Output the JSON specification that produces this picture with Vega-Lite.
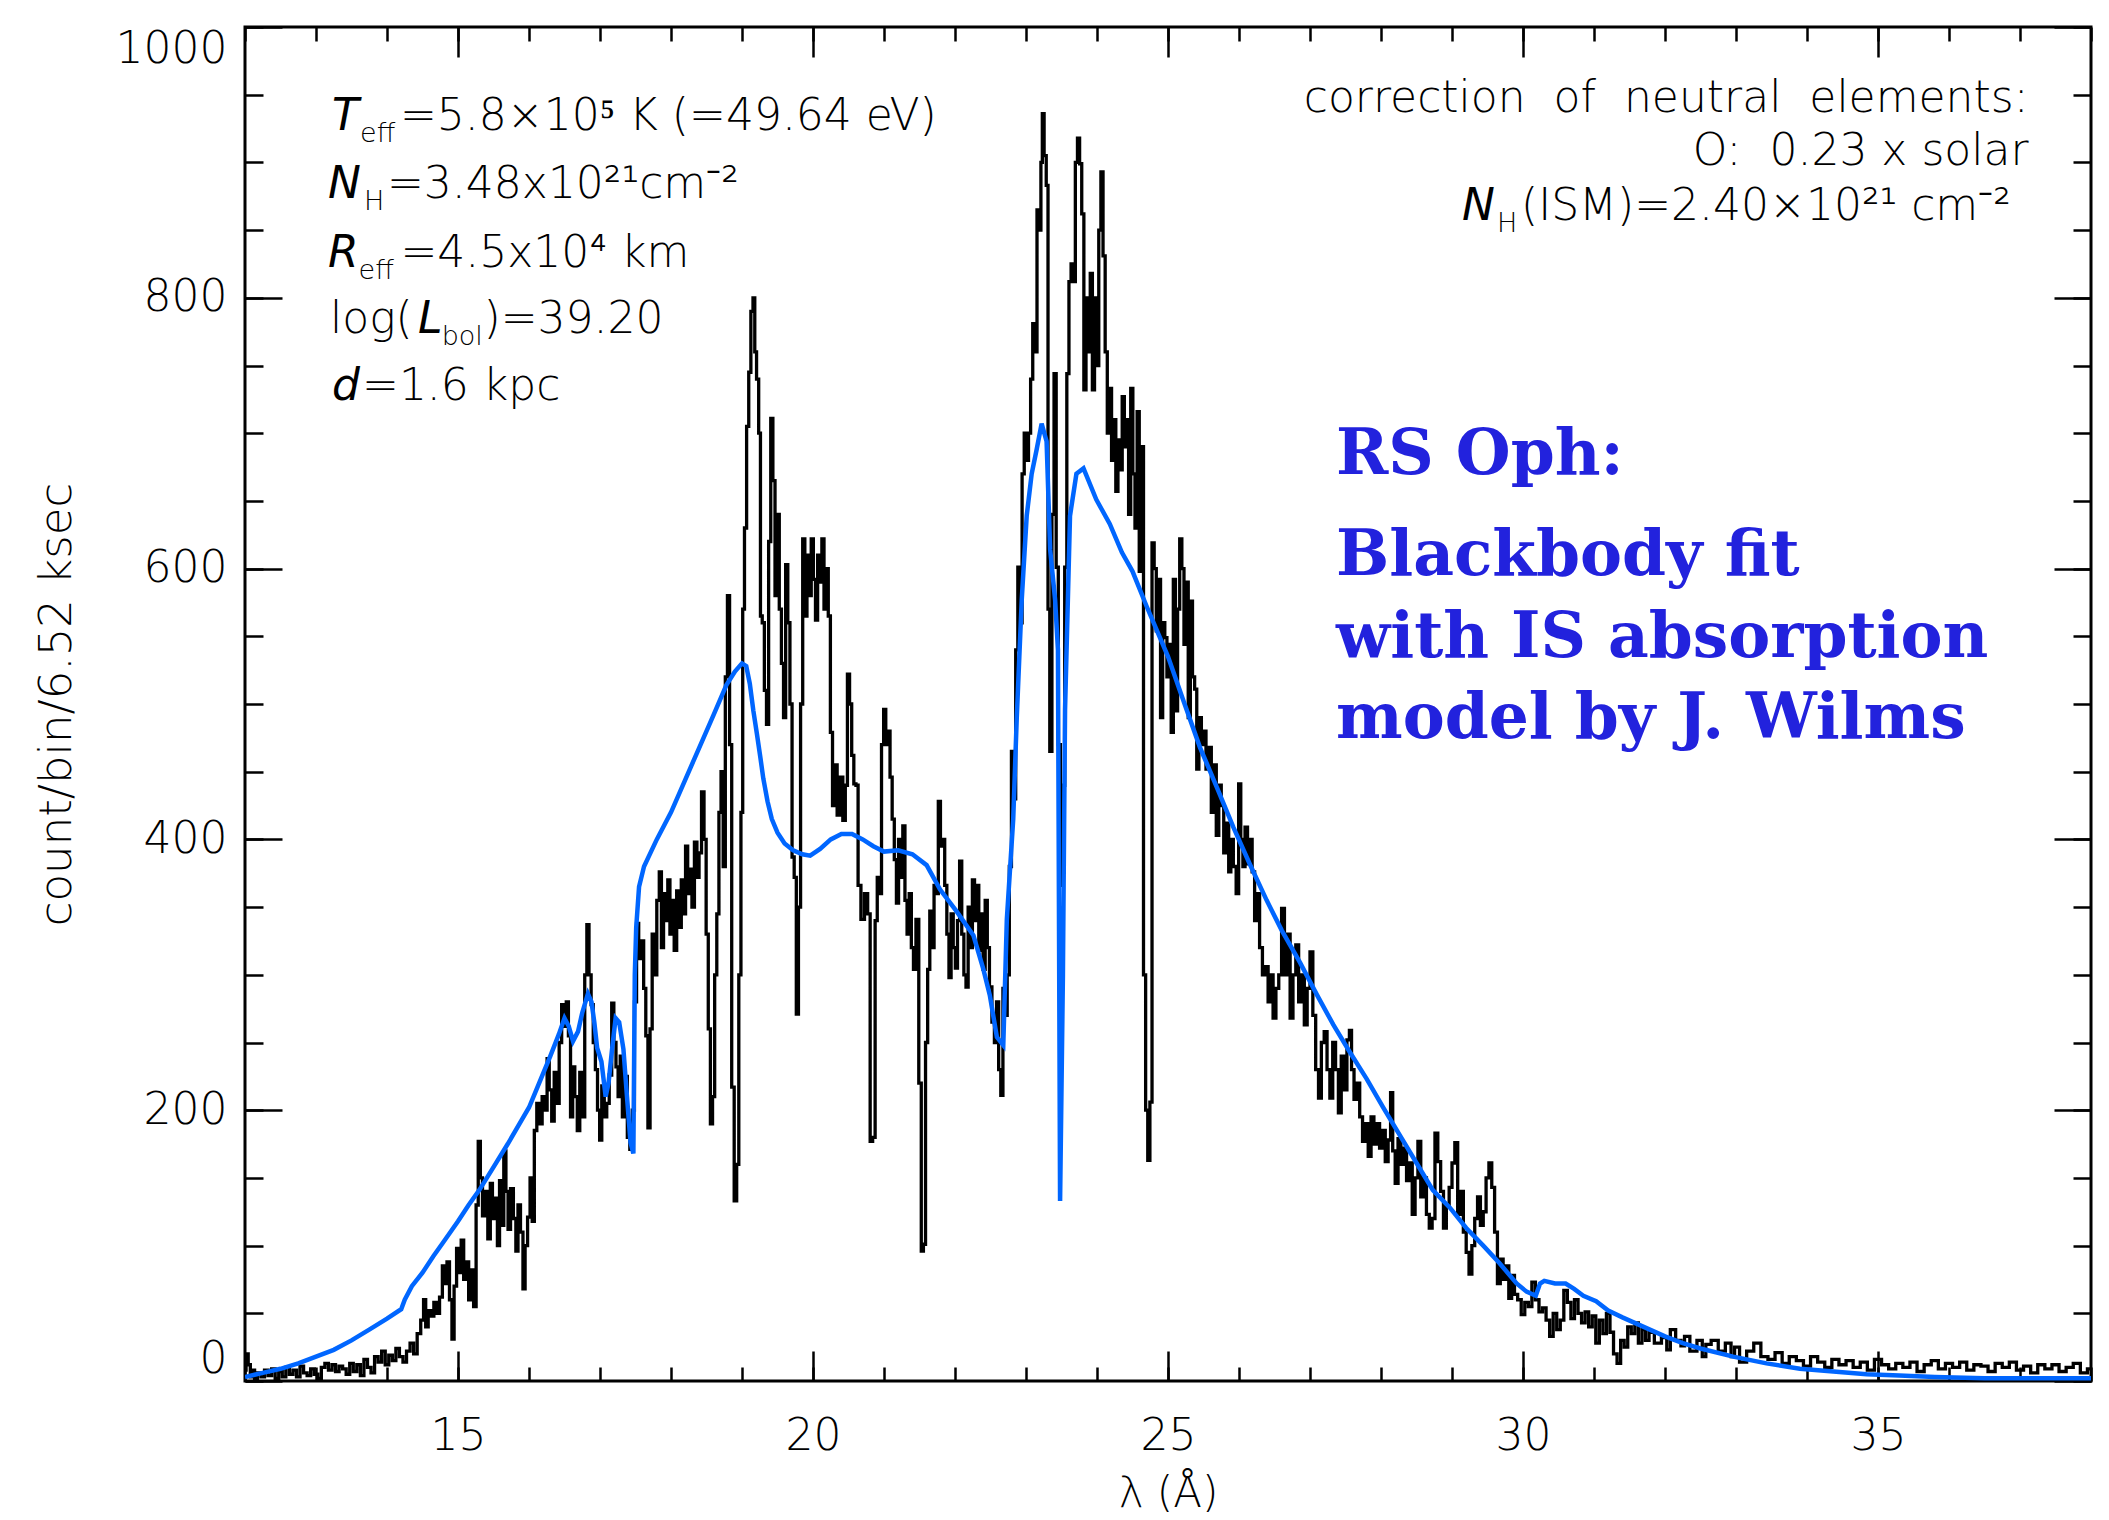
{
  "$schema": "https://vega.github.io/schema/vega-lite/v6.json",
  "width": 1846,
  "height": 1354,
  "autosize": {"type": "none"},
  "padding": {"left": 245, "top": 27, "right": 18, "bottom": 139},
  "background": "white",
  "config": {
    "view": {"stroke": "black", "strokeWidth": 3},
    "axis": {"domain": false, "grid": false, "labelFont": "DejaVu Sans", "titleFont": "DejaVu Sans", "labelColor": "black", "titleColor": "black", "tickColor": "black", "tickWidth": 2.5, "labelFontWeight": 200, "titleFontWeight": 200}
  },
  "datasets": {
    "obs": [
      {"l":12.0,"c":8},{"l":12.03,"c":20},{"l":12.06,"c":12},{"l":12.09,"c":3},{"l":12.12,"c":8},{"l":12.15,"c":2},{"l":12.2,"c":6},{"l":12.25,"c":3},{"l":12.3,"c":8},{"l":12.35,"c":4},{"l":12.4,"c":9},{"l":12.45,"c":2},{"l":12.5,"c":7},{"l":12.55,"c":3},{"l":12.6,"c":10},{"l":12.65,"c":5},{"l":12.7,"c":8},{"l":12.75,"c":3},{"l":12.8,"c":11},{"l":12.85,"c":6},{"l":12.9,"c":4},{"l":12.95,"c":9},{"l":13.0,"c":5},{"l":13.05,"c":2},{"l":13.1,"c":10},{"l":13.15,"c":13},{"l":13.2,"c":8},{"l":13.25,"c":12},{"l":13.3,"c":7},{"l":13.35,"c":11},{"l":13.4,"c":9},{"l":13.45,"c":5},{"l":13.5,"c":13},{"l":13.55,"c":7},{"l":13.6,"c":12},{"l":13.65,"c":4},{"l":13.7,"c":16},{"l":13.75,"c":10},{"l":13.8,"c":6},{"l":13.85,"c":18},{"l":13.9,"c":14},{"l":13.95,"c":22},{"l":14.0,"c":12},{"l":14.05,"c":19},{"l":14.1,"c":15},{"l":14.15,"c":24},{"l":14.2,"c":18},{"l":14.25,"c":14},{"l":14.3,"c":22},{"l":14.35,"c":28},{"l":14.4,"c":20},{"l":14.45,"c":35},{"l":14.5,"c":45},{"l":14.53,"c":60},{"l":14.56,"c":40},{"l":14.6,"c":52},{"l":14.64,"c":48},{"l":14.68,"c":58},{"l":14.72,"c":50},{"l":14.76,"c":62},{"l":14.8,"c":85},{"l":14.83,"c":72},{"l":14.86,"c":88},{"l":14.9,"c":60},{"l":14.93,"c":31},{"l":14.96,"c":70},{"l":15.0,"c":98},{"l":15.03,"c":80},{"l":15.06,"c":104},{"l":15.1,"c":75},{"l":15.13,"c":88},{"l":15.17,"c":60},{"l":15.2,"c":82},{"l":15.24,"c":55},{"l":15.27,"c":130},{"l":15.3,"c":177},{"l":15.33,"c":150},{"l":15.36,"c":122},{"l":15.4,"c":140},{"l":15.44,"c":105},{"l":15.47,"c":146},{"l":15.5,"c":120},{"l":15.54,"c":135},{"l":15.57,"c":100},{"l":15.6,"c":148},{"l":15.63,"c":115},{"l":15.66,"c":170},{"l":15.69,"c":140},{"l":15.72,"c":112},{"l":15.76,"c":142},{"l":15.8,"c":120},{"l":15.83,"c":96},{"l":15.86,"c":130},{"l":15.9,"c":110},{"l":15.93,"c":68},{"l":15.96,"c":100},{"l":16.0,"c":121},{"l":16.03,"c":150},{"l":16.06,"c":118},{"l":16.09,"c":185},{"l":16.13,"c":205},{"l":16.17,"c":190},{"l":16.2,"c":210},{"l":16.24,"c":200},{"l":16.27,"c":238},{"l":16.3,"c":215},{"l":16.34,"c":192},{"l":16.37,"c":228},{"l":16.41,"c":205},{"l":16.44,"c":250},{"l":16.48,"c":278},{"l":16.51,"c":262},{"l":16.54,"c":280},{"l":16.57,"c":255},{"l":16.6,"c":195},{"l":16.63,"c":232},{"l":16.66,"c":210},{"l":16.7,"c":185},{"l":16.73,"c":228},{"l":16.77,"c":195},{"l":16.8,"c":300},{"l":16.83,"c":337},{"l":16.86,"c":300},{"l":16.89,"c":278},{"l":16.92,"c":250},{"l":16.95,"c":230},{"l":16.98,"c":200},{"l":17.01,"c":178},{"l":17.04,"c":218},{"l":17.08,"c":195},{"l":17.11,"c":205},{"l":17.15,"c":226},{"l":17.18,"c":279},{"l":17.21,"c":250},{"l":17.24,"c":232},{"l":17.27,"c":210},{"l":17.3,"c":240},{"l":17.33,"c":195},{"l":17.37,"c":225},{"l":17.4,"c":180},{"l":17.44,"c":171},{"l":17.47,"c":200},{"l":17.5,"c":280},{"l":17.53,"c":338},{"l":17.56,"c":312},{"l":17.6,"c":325},{"l":17.63,"c":290},{"l":17.66,"c":255},{"l":17.69,"c":187},{"l":17.72,"c":260},{"l":17.75,"c":330},{"l":17.78,"c":300},{"l":17.82,"c":355},{"l":17.85,"c":376},{"l":17.88,"c":320},{"l":17.91,"c":360},{"l":17.94,"c":340},{"l":17.97,"c":370},{"l":18.0,"c":330},{"l":18.03,"c":355},{"l":18.06,"c":318},{"l":18.1,"c":362},{"l":18.13,"c":335},{"l":18.16,"c":370},{"l":18.19,"c":345},{"l":18.22,"c":395},{"l":18.25,"c":360},{"l":18.28,"c":378},{"l":18.31,"c":350},{"l":18.35,"c":398},{"l":18.38,"c":372},{"l":18.41,"c":390},{"l":18.45,"c":435},{"l":18.48,"c":400},{"l":18.51,"c":330},{"l":18.54,"c":260},{"l":18.57,"c":190},{"l":18.6,"c":210},{"l":18.63,"c":300},{"l":18.66,"c":345},{"l":18.69,"c":420},{"l":18.72,"c":450},{"l":18.75,"c":380},{"l":18.78,"c":520},{"l":18.81,"c":580},{"l":18.84,"c":470},{"l":18.87,"c":217},{"l":18.91,"c":133},{"l":18.94,"c":160},{"l":18.97,"c":300},{"l":19.0,"c":420},{"l":19.02,"c":570},{"l":19.05,"c":630},{"l":19.08,"c":705},{"l":19.11,"c":745},{"l":19.14,"c":790},{"l":19.17,"c":800},{"l":19.19,"c":760},{"l":19.22,"c":740},{"l":19.25,"c":700},{"l":19.27,"c":565},{"l":19.3,"c":560},{"l":19.33,"c":510},{"l":19.36,"c":485},{"l":19.39,"c":620},{"l":19.42,"c":711},{"l":19.45,"c":665},{"l":19.48,"c":580},{"l":19.51,"c":640},{"l":19.54,"c":570},{"l":19.57,"c":530},{"l":19.6,"c":490},{"l":19.63,"c":603},{"l":19.66,"c":560},{"l":19.69,"c":500},{"l":19.72,"c":387},{"l":19.75,"c":372},{"l":19.78,"c":271},{"l":19.81,"c":350},{"l":19.84,"c":500},{"l":19.87,"c":622},{"l":19.9,"c":565},{"l":19.93,"c":610},{"l":19.96,"c":580},{"l":19.99,"c":622},{"l":20.02,"c":592},{"l":20.05,"c":562},{"l":20.08,"c":610},{"l":20.11,"c":590},{"l":20.14,"c":622},{"l":20.17,"c":570},{"l":20.2,"c":600},{"l":20.23,"c":565},{"l":20.26,"c":479},{"l":20.29,"c":425},{"l":20.32,"c":455},{"l":20.36,"c":418},{"l":20.4,"c":446},{"l":20.44,"c":414},{"l":20.47,"c":440},{"l":20.5,"c":522},{"l":20.53,"c":500},{"l":20.56,"c":462},{"l":20.59,"c":441},{"l":20.62,"c":440},{"l":20.65,"c":366},{"l":20.7,"c":341},{"l":20.75,"c":360},{"l":20.79,"c":345},{"l":20.82,"c":177},{"l":20.86,"c":180},{"l":20.89,"c":340},{"l":20.92,"c":372},{"l":20.95,"c":360},{"l":20.98,"c":470},{"l":21.01,"c":496},{"l":21.04,"c":470},{"l":21.07,"c":480},{"l":21.1,"c":446},{"l":21.13,"c":415},{"l":21.16,"c":385},{"l":21.19,"c":353},{"l":21.22,"c":400},{"l":21.25,"c":372},{"l":21.28,"c":410},{"l":21.31,"c":355},{"l":21.34,"c":330},{"l":21.37,"c":360},{"l":21.4,"c":320},{"l":21.43,"c":304},{"l":21.47,"c":341},{"l":21.51,"c":220},{"l":21.54,"c":96},{"l":21.57,"c":101},{"l":21.6,"c":250},{"l":21.63,"c":304},{"l":21.66,"c":347},{"l":21.69,"c":320},{"l":21.72,"c":366},{"l":21.75,"c":360},{"l":21.78,"c":428},{"l":21.81,"c":395},{"l":21.84,"c":400},{"l":21.87,"c":366},{"l":21.9,"c":330},{"l":21.93,"c":298},{"l":21.96,"c":345},{"l":21.99,"c":320},{"l":22.02,"c":305},{"l":22.05,"c":340},{"l":22.08,"c":384},{"l":22.11,"c":330},{"l":22.14,"c":300},{"l":22.17,"c":291},{"l":22.2,"c":350},{"l":22.23,"c":320},{"l":22.26,"c":370},{"l":22.29,"c":340},{"l":22.32,"c":366},{"l":22.35,"c":318},{"l":22.38,"c":345},{"l":22.41,"c":304},{"l":22.44,"c":355},{"l":22.47,"c":320},{"l":22.5,"c":291},{"l":22.54,"c":265},{"l":22.57,"c":250},{"l":22.6,"c":280},{"l":22.63,"c":230},{"l":22.66,"c":211},{"l":22.69,"c":290},{"l":22.72,"c":270},{"l":22.75,"c":300},{"l":22.78,"c":380},{"l":22.81,"c":465},{"l":22.84,"c":430},{"l":22.87,"c":540},{"l":22.9,"c":601},{"l":22.93,"c":560},{"l":22.96,"c":670},{"l":22.99,"c":700},{"l":23.02,"c":680},{"l":23.05,"c":700},{"l":23.08,"c":740},{"l":23.11,"c":781},{"l":23.14,"c":760},{"l":23.17,"c":865},{"l":23.2,"c":850},{"l":23.22,"c":900},{"l":23.24,"c":936},{"l":23.27,"c":905},{"l":23.3,"c":883},{"l":23.32,"c":570},{"l":23.35,"c":465},{"l":23.38,"c":640},{"l":23.41,"c":744},{"l":23.44,"c":601},{"l":23.47,"c":470},{"l":23.5,"c":366},{"l":23.53,"c":440},{"l":23.56,"c":601},{"l":23.59,"c":744},{"l":23.62,"c":812},{"l":23.65,"c":825},{"l":23.68,"c":812},{"l":23.71,"c":900},{"l":23.74,"c":918},{"l":23.77,"c":899},{"l":23.8,"c":862},{"l":23.83,"c":732},{"l":23.86,"c":800},{"l":23.89,"c":760},{"l":23.92,"c":818},{"l":23.95,"c":732},{"l":23.98,"c":800},{"l":24.01,"c":750},{"l":24.04,"c":850},{"l":24.07,"c":893},{"l":24.1,"c":831},{"l":24.13,"c":760},{"l":24.16,"c":700},{"l":24.19,"c":733},{"l":24.22,"c":680},{"l":24.25,"c":710},{"l":24.28,"c":657},{"l":24.31,"c":695},{"l":24.34,"c":673},{"l":24.37,"c":727},{"l":24.4,"c":690},{"l":24.43,"c":710},{"l":24.46,"c":640},{"l":24.49,"c":733},{"l":24.52,"c":670},{"l":24.55,"c":630},{"l":24.58,"c":716},{"l":24.61,"c":598},{"l":24.64,"c":690},{"l":24.67,"c":300},{"l":24.7,"c":200},{"l":24.73,"c":163},{"l":24.76,"c":206},{"l":24.79,"c":619},{"l":24.82,"c":600},{"l":24.85,"c":554},{"l":24.88,"c":592},{"l":24.91,"c":490},{"l":24.94,"c":560},{"l":24.97,"c":549},{"l":25.0,"c":520},{"l":25.03,"c":544},{"l":25.06,"c":479},{"l":25.09,"c":592},{"l":25.12,"c":495},{"l":25.15,"c":570},{"l":25.18,"c":622},{"l":25.21,"c":600},{"l":25.24,"c":544},{"l":25.27,"c":590},{"l":25.3,"c":490},{"l":25.33,"c":576},{"l":25.36,"c":520},{"l":25.39,"c":511},{"l":25.42,"c":452},{"l":25.45,"c":490},{"l":25.49,"c":470},{"l":25.52,"c":480},{"l":25.55,"c":452},{"l":25.59,"c":468},{"l":25.63,"c":420},{"l":25.66,"c":455},{"l":25.7,"c":403},{"l":25.73,"c":440},{"l":25.77,"c":425},{"l":25.8,"c":390},{"l":25.84,"c":412},{"l":25.87,"c":376},{"l":25.9,"c":400},{"l":25.94,"c":380},{"l":25.98,"c":360},{"l":26.01,"c":441},{"l":26.04,"c":400},{"l":26.07,"c":380},{"l":26.1,"c":409},{"l":26.14,"c":382},{"l":26.17,"c":400},{"l":26.2,"c":376},{"l":26.24,"c":340},{"l":26.27,"c":360},{"l":26.31,"c":320},{"l":26.35,"c":300},{"l":26.39,"c":306},{"l":26.43,"c":280},{"l":26.46,"c":300},{"l":26.5,"c":268},{"l":26.54,"c":290},{"l":26.58,"c":300},{"l":26.62,"c":349},{"l":26.66,"c":300},{"l":26.7,"c":330},{"l":26.74,"c":268},{"l":26.78,"c":300},{"l":26.82,"c":322},{"l":26.86,"c":280},{"l":26.9,"c":300},{"l":26.94,"c":263},{"l":26.98,"c":290},{"l":27.02,"c":317},{"l":27.06,"c":270},{"l":27.1,"c":230},{"l":27.14,"c":209},{"l":27.18,"c":250},{"l":27.22,"c":258},{"l":27.26,"c":230},{"l":27.3,"c":209},{"l":27.34,"c":250},{"l":27.38,"c":230},{"l":27.42,"c":198},{"l":27.46,"c":240},{"l":27.5,"c":215},{"l":27.54,"c":252},{"l":27.57,"c":259},{"l":27.6,"c":230},{"l":27.64,"c":208},{"l":27.68,"c":220},{"l":27.72,"c":195},{"l":27.76,"c":177},{"l":27.8,"c":190},{"l":27.84,"c":166},{"l":27.88,"c":195},{"l":27.92,"c":175},{"l":27.96,"c":190},{"l":28.0,"c":172},{"l":28.04,"c":185},{"l":28.08,"c":162},{"l":28.12,"c":178},{"l":28.15,"c":213},{"l":28.18,"c":170},{"l":28.22,"c":146},{"l":28.26,"c":179},{"l":28.3,"c":160},{"l":28.34,"c":172},{"l":28.38,"c":148},{"l":28.42,"c":161},{"l":28.46,"c":123},{"l":28.5,"c":150},{"l":28.54,"c":177},{"l":28.58,"c":136},{"l":28.62,"c":150},{"l":28.66,"c":123},{"l":28.7,"c":113},{"l":28.74,"c":120},{"l":28.78,"c":183},{"l":28.82,"c":162},{"l":28.86,"c":140},{"l":28.9,"c":113},{"l":28.94,"c":130},{"l":28.98,"c":143},{"l":29.02,"c":161},{"l":29.06,"c":176},{"l":29.1,"c":123},{"l":29.14,"c":140},{"l":29.18,"c":110},{"l":29.22,"c":95},{"l":29.26,"c":79},{"l":29.3,"c":100},{"l":29.34,"c":120},{"l":29.38,"c":136},{"l":29.42,"c":115},{"l":29.46,"c":125},{"l":29.5,"c":150},{"l":29.54,"c":161},{"l":29.58,"c":143},{"l":29.62,"c":110},{"l":29.66,"c":72},{"l":29.7,"c":90},{"l":29.74,"c":75},{"l":29.78,"c":85},{"l":29.82,"c":61},{"l":29.86,"c":78},{"l":29.9,"c":64},{"l":29.95,"c":60},{"l":30.0,"c":49},{"l":30.05,"c":58},{"l":30.1,"c":55},{"l":30.15,"c":73},{"l":30.2,"c":60},{"l":30.25,"c":51},{"l":30.3,"c":54},{"l":30.35,"c":45},{"l":30.4,"c":33},{"l":30.45,"c":50},{"l":30.5,"c":38},{"l":30.55,"c":45},{"l":30.6,"c":67},{"l":30.65,"c":58},{"l":30.7,"c":46},{"l":30.75,"c":60},{"l":30.8,"c":50},{"l":30.85,"c":43},{"l":30.9,"c":51},{"l":30.95,"c":40},{"l":31.0,"c":48},{"l":31.05,"c":28},{"l":31.1,"c":45},{"l":31.15,"c":35},{"l":31.2,"c":50},{"l":31.25,"c":36},{"l":31.3,"c":20},{"l":31.35,"c":13},{"l":31.4,"c":30},{"l":31.45,"c":25},{"l":31.5,"c":40},{"l":31.55,"c":35},{"l":31.6,"c":43},{"l":31.65,"c":28},{"l":31.7,"c":38},{"l":31.75,"c":30},{"l":31.8,"c":36},{"l":31.9,"c":28},{"l":32.0,"c":32},{"l":32.05,"c":23},{"l":32.1,"c":38},{"l":32.2,"c":30},{"l":32.25,"c":26},{"l":32.3,"c":33},{"l":32.4,"c":22},{"l":32.5,"c":30},{"l":32.55,"c":18},{"l":32.6,"c":27},{"l":32.7,"c":30},{"l":32.8,"c":22},{"l":32.9,"c":28},{"l":32.96,"c":18},{"l":33.0,"c":25},{"l":33.1,"c":14},{"l":33.2,"c":22},{"l":33.3,"c":28},{"l":33.4,"c":18},{"l":33.5,"c":16},{"l":33.6,"c":21},{"l":33.7,"c":13},{"l":33.8,"c":18},{"l":33.9,"c":15},{"l":34.0,"c":11},{"l":34.1,"c":18},{"l":34.2,"c":14},{"l":34.3,"c":10},{"l":34.4,"c":16},{"l":34.5,"c":12},{"l":34.6,"c":15},{"l":34.7,"c":10},{"l":34.8,"c":14},{"l":34.9,"c":8},{"l":35.0,"c":16},{"l":35.1,"c":12},{"l":35.2,"c":9},{"l":35.3,"c":13},{"l":35.4,"c":10},{"l":35.5,"c":14},{"l":35.6,"c":7},{"l":35.7,"c":12},{"l":35.8,"c":15},{"l":35.9,"c":9},{"l":36.0,"c":13},{"l":36.1,"c":10},{"l":36.2,"c":14},{"l":36.3,"c":8},{"l":36.4,"c":12},{"l":36.5,"c":11},{"l":36.6,"c":7},{"l":36.7,"c":13},{"l":36.8,"c":10},{"l":36.9,"c":14},{"l":37.0,"c":8},{"l":37.1,"c":11},{"l":37.2,"c":6},{"l":37.3,"c":12},{"l":37.4,"c":9},{"l":37.5,"c":12},{"l":37.6,"c":7},{"l":37.7,"c":10},{"l":37.8,"c":13},{"l":37.9,"c":6},{"l":38.0,"c":9}
    ],
    "model": [
      {"l":12.0,"m":3},{"l":12.25,"m":6},{"l":12.5,"m":9},{"l":12.75,"m":13},{"l":13.0,"m":18},{"l":13.25,"m":23},{"l":13.5,"m":30},{"l":13.75,"m":38},{"l":14.0,"m":46},{"l":14.2,"m":53},{"l":14.25,"m":60},{"l":14.35,"m":70},{"l":14.5,"m":80},{"l":14.65,"m":92},{"l":14.8,"m":103},{"l":15.0,"m":118},{"l":15.15,"m":130},{"l":15.3,"m":141},{"l":15.5,"m":158},{"l":15.7,"m":175},{"l":15.9,"m":193},{"l":16.0,"m":202},{"l":16.15,"m":221},{"l":16.3,"m":240},{"l":16.42,"m":256},{"l":16.5,"m":268},{"l":16.56,"m":262},{"l":16.62,"m":251},{"l":16.69,"m":258},{"l":16.75,"m":272},{"l":16.83,"m":286},{"l":16.88,"m":280},{"l":16.92,"m":265},{"l":16.96,"m":246},{"l":17.02,"m":236},{"l":17.08,"m":210},{"l":17.12,"m":220},{"l":17.17,"m":245},{"l":17.22,"m":268},{"l":17.27,"m":265},{"l":17.33,"m":245},{"l":17.38,"m":210},{"l":17.43,"m":176},{"l":17.47,"m":168},{"l":17.49,"m":300},{"l":17.51,"m":335},{"l":17.55,"m":365},{"l":17.62,"m":380},{"l":17.8,"m":400},{"l":18.0,"m":420},{"l":18.2,"m":444},{"l":18.4,"m":468},{"l":18.6,"m":492},{"l":18.78,"m":514},{"l":18.9,"m":524},{"l":19.0,"m":530},{"l":19.06,"m":528},{"l":19.11,"m":515},{"l":19.16,"m":495},{"l":19.21,"m":478},{"l":19.26,"m":460},{"l":19.3,"m":445},{"l":19.36,"m":428},{"l":19.42,"m":415},{"l":19.5,"m":405},{"l":19.6,"m":397},{"l":19.72,"m":392},{"l":19.85,"m":389},{"l":19.96,"m":388},{"l":20.1,"m":393},{"l":20.25,"m":400},{"l":20.4,"m":404},{"l":20.55,"m":404},{"l":20.7,"m":400},{"l":20.85,"m":395},{"l":21.0,"m":391},{"l":21.2,"m":392},{"l":21.4,"m":389},{"l":21.6,"m":381},{"l":21.79,"m":363},{"l":22.02,"m":347},{"l":22.26,"m":329},{"l":22.4,"m":304},{"l":22.49,"m":285},{"l":22.59,"m":254},{"l":22.68,"m":248},{"l":22.73,"m":341},{"l":22.82,"m":415},{"l":22.87,"m":490},{"l":22.94,"m":577},{"l":23.01,"m":639},{"l":23.08,"m":670},{"l":23.15,"m":688},{"l":23.22,"m":707},{"l":23.29,"m":694},{"l":23.34,"m":614},{"l":23.41,"m":577},{"l":23.45,"m":540},{"l":23.48,"m":133},{"l":23.52,"m":300},{"l":23.55,"m":496},{"l":23.62,"m":639},{"l":23.71,"m":670},{"l":23.81,"m":674},{"l":23.99,"m":651},{"l":24.18,"m":633},{"l":24.35,"m":612},{"l":24.5,"m":598},{"l":24.7,"m":572},{"l":25.0,"m":535},{"l":25.2,"m":505},{"l":25.45,"m":468},{"l":25.7,"m":437},{"l":25.92,"m":409},{"l":26.15,"m":382},{"l":26.39,"m":355},{"l":26.6,"m":333},{"l":26.86,"m":309},{"l":27.1,"m":285},{"l":27.33,"m":263},{"l":27.56,"m":243},{"l":27.8,"m":223},{"l":28.03,"m":202},{"l":28.26,"m":182},{"l":28.5,"m":161},{"l":28.73,"m":141},{"l":28.97,"m":128},{"l":29.2,"m":113},{"l":29.44,"m":100},{"l":29.67,"m":87},{"l":29.91,"m":72},{"l":30.05,"m":66},{"l":30.18,"m":63},{"l":30.24,"m":72},{"l":30.3,"m":74},{"l":30.45,"m":72},{"l":30.6,"m":72},{"l":30.72,"m":68},{"l":30.85,"m":63},{"l":31.03,"m":59},{"l":31.2,"m":52},{"l":31.4,"m":47},{"l":31.7,"m":40},{"l":32.0,"m":33},{"l":32.25,"m":28},{"l":32.5,"m":24},{"l":32.96,"m":18},{"l":33.43,"m":13},{"l":33.9,"m":9},{"l":34.37,"m":7},{"l":34.84,"m":5},{"l":35.3,"m":4},{"l":35.8,"m":3},{"l":36.5,"m":2},{"l":37.2,"m":2},{"l":38.0,"m":2}
    ],
    "mainText": [
      {"x":14.183,"y":924.0,"t":"=5.8×10⁵ K (=49.64 eV)"},
      {"x":14.0,"y":873.7,"t":"=3.48x10²¹cm⁻²"},
      {"x":14.19,"y":822.7,"t":"=4.5x10⁴ km"},
      {"x":13.197,"y":774.0,"t":"log("},
      {"x":15.36,"y":774.0,"t":")=39.20"},
      {"x":13.648,"y":724.5,"t":"=1.6 kpc"},
      {"x":29.972,"y":857.5,"t":"(ISM)=2.40×10²¹ cm⁻²"}
    ],
    "italText": [
      {"x":13.2254,"y":924.0,"t":"T"},
      {"x":13.169,"y":873.7,"t":"N"},
      {"x":13.169,"y":822.7,"t":"R"},
      {"x":14.437,"y":774.0,"t":"L"},
      {"x":13.2254,"y":724.5,"t":"d"},
      {"x":29.141,"y":857.5,"t":"N"}
    ],
    "subText": [
      {"x":13.620,"y":915.1,"t":"eff"},
      {"x":13.676,"y":864.8,"t":"H"},
      {"x":13.60,"y":813.9,"t":"eff"},
      {"x":14.77,"y":765.1,"t":"bol"},
      {"x":29.634,"y":848.6,"t":"H"}
    ],
    "rightText": [
      {"x":37.12,"y":937.2,"t":"correction\u00a0 of\u00a0 neutral\u00a0 elements:"},
      {"x":37.12,"y":898.1,"t":"O:\u00a0 0.23 x solar"}
    ],
    "blueText": [
      {"x":27.366,"y":669.9,"t":"RS Oph:"},
      {"x":27.366,"y":595.3,"t":"Blackbody fit"},
      {"x":27.366,"y":534.7,"t":"with IS absorption"},
      {"x":27.366,"y":474.9,"t":"model by J. Wilms"}
    ]
  },
  "layer": [
    {
      "data": {"name": "obs"},
      "mark": {"type": "line", "interpolate": "step", "color": "black", "strokeWidth": 3.3, "clip": true},
      "encoding": {
        "x": {"field": "l", "type": "quantitative", "scale": {"domain": [12, 38], "nice": false, "zero": false},
          "axis": {"orient": "bottom", "values": [15, 20, 25, 30, 35], "ticks": false, "labelFontSize": 44, "labelPadding": 33, "labelBaseline": "top", "labelFlush": false, "title": "λ (Å)", "titleFontSize": 42, "titleX": 923, "titleY": 125, "titleAlign": "center", "titleBaseline": "alphabetic"}},
        "y": {"field": "c", "type": "quantitative", "scale": {"domain": [0, 1000], "nice": false, "zero": false},
          "axis": {"orient": "left", "values": [0, 200, 400, 600, 800, 1000], "format": "d", "ticks": false, "labelFontSize": 44, "labelPadding": 18, "labelFlush": true, "title": "count/bin/6.52 ksec", "titleFontSize": 45, "titleX": -189, "titleY": 677, "titleAngle": -90, "titleAlign": "center", "titleBaseline": "middle"}}
      }
    },
    {
      "data": {"name": "model"},
      "mark": {"type": "line", "interpolate": "linear", "color": "#0066ff", "strokeWidth": 4.5, "clip": true},
      "encoding": {
        "x": {"field": "l", "type": "quantitative", "scale": {"domain": [12, 38], "nice": false, "zero": false},
          "axis": {"orient": "bottom", "values": [15, 20, 25, 30, 35], "labels": false, "ticks": true, "tickSize": -30, "title": null}},
        "y": {"field": "m", "type": "quantitative", "scale": {"domain": [0, 1000], "nice": false, "zero": false},
          "axis": {"orient": "left", "values": [0, 200, 400, 600, 800, 1000], "labels": false, "ticks": true, "tickSize": -37, "title": null}}
      }
    },
    {
      "data": {"name": "mainText"},
      "mark": {"type": "text", "align": "left", "baseline": "alphabetic", "font": "DejaVu Sans", "fontWeight": 200, "fontSize": 44, "color": "black"},
      "encoding": {
        "x": {"field": "x", "type": "quantitative", "scale": {"domain": [12, 38], "nice": false, "zero": false},
          "axis": {"orient": "bottom", "values": [12,13,14,15,16,17,18,19,20,21,22,23,24,25,26,27,28,29,30,31,32,33,34,35,36,37,38], "labels": false, "ticks": true, "tickSize": -14, "title": null}},
        "y": {"field": "y", "type": "quantitative", "scale": {"domain": [0, 1000], "nice": false, "zero": false},
          "axis": {"orient": "left", "values": [0,50,100,150,200,250,300,350,400,450,500,550,600,650,700,750,800,850,900,950,1000], "labels": false, "ticks": true, "tickSize": -18, "title": null}},
        "text": {"field": "t"}
      }
    },
    {
      "data": {"name": "italText"},
      "mark": {"type": "text", "align": "left", "baseline": "alphabetic", "font": "DejaVu Sans", "fontWeight": 200, "fontStyle": "italic", "fontSize": 44, "color": "black"},
      "encoding": {
        "x": {"field": "x", "type": "quantitative", "scale": {"domain": [12, 38], "nice": false, "zero": false},
          "axis": {"orient": "top", "values": [15, 20, 25, 30, 35], "labels": false, "ticks": true, "tickSize": -30, "title": null}},
        "y": {"field": "y", "type": "quantitative", "scale": {"domain": [0, 1000], "nice": false, "zero": false},
          "axis": {"orient": "right", "values": [0, 200, 400, 600, 800, 1000], "labels": false, "ticks": true, "tickSize": -37, "title": null}},
        "text": {"field": "t"}
      }
    },
    {
      "data": {"name": "subText"},
      "mark": {"type": "text", "align": "left", "baseline": "alphabetic", "font": "DejaVu Sans", "fontWeight": 200, "fontSize": 27, "color": "black"},
      "encoding": {
        "x": {"field": "x", "type": "quantitative", "scale": {"domain": [12, 38], "nice": false, "zero": false},
          "axis": {"orient": "top", "values": [12,13,14,15,16,17,18,19,20,21,22,23,24,25,26,27,28,29,30,31,32,33,34,35,36,37,38], "labels": false, "ticks": true, "tickSize": -14, "title": null}},
        "y": {"field": "y", "type": "quantitative", "scale": {"domain": [0, 1000], "nice": false, "zero": false},
          "axis": {"orient": "right", "values": [0,50,100,150,200,250,300,350,400,450,500,550,600,650,700,750,800,850,900,950,1000], "labels": false, "ticks": true, "tickSize": -18, "title": null}},
        "text": {"field": "t"}
      }
    },
    {
      "data": {"name": "rightText"},
      "mark": {"type": "text", "align": "right", "baseline": "alphabetic", "font": "DejaVu Sans", "fontWeight": 200, "fontSize": 44, "color": "black"},
      "encoding": {
        "x": {"field": "x", "type": "quantitative", "scale": {"domain": [12, 38], "nice": false, "zero": false}, "axis": null},
        "y": {"field": "y", "type": "quantitative", "scale": {"domain": [0, 1000], "nice": false, "zero": false}, "axis": null},
        "text": {"field": "t"}
      }
    },
    {
      "data": {"name": "blueText"},
      "mark": {"type": "text", "align": "left", "baseline": "alphabetic", "font": "DejaVu Serif", "fontWeight": "bold", "fontSize": 63, "color": "#2222dd"},
      "encoding": {
        "x": {"field": "x", "type": "quantitative", "scale": {"domain": [12, 38], "nice": false, "zero": false}, "axis": null},
        "y": {"field": "y", "type": "quantitative", "scale": {"domain": [0, 1000], "nice": false, "zero": false}, "axis": null},
        "text": {"field": "t"}
      }
    }
  ],
  "resolve": {"axis": {"x": "independent", "y": "independent"}}
}
